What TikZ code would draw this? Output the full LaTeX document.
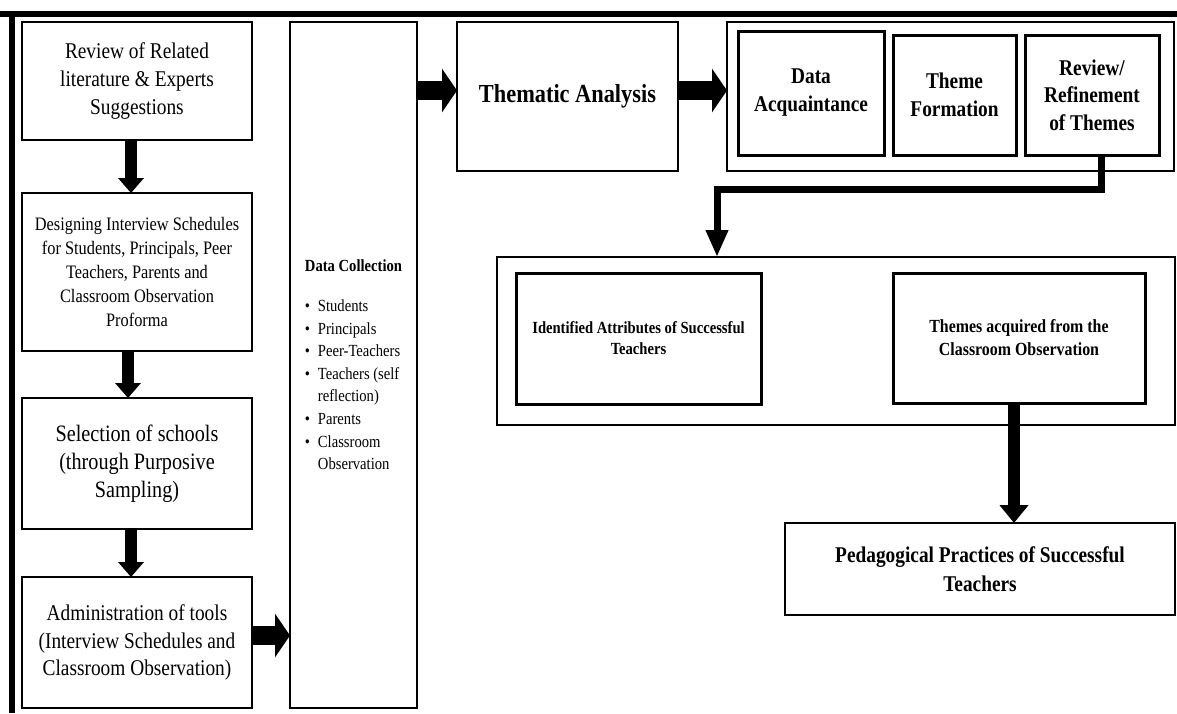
\documentclass[tikz,border=0pt]{standalone}
\usepackage{fontspec}
\setmainfont{Liberation Serif}[FakeStretch=0.86]
\usetikzlibrary{arrows.meta,positioning}

\newcommand{\dcitem}{\makebox[13pt][l]{\textbullet}}
\newcommand{\dcgap}{\hspace*{13pt}}

\begin{document}
\begin{tikzpicture}[
    x=1pt, y=-1pt,
    box/.style={draw, line width=2pt, align=center, inner sep=0pt, outer sep=0pt, anchor=north west},
    stagebox/.style={box, line width=3pt},
    flow/.style={line width=12pt, -{Triangle[length=15pt, width=25pt]}},
    wideflow/.style={line width=19pt, -{Triangle[length=15pt, width=43pt]}},
    link/.style={line width=7pt, -{Triangle[length=27pt, width=21pt]}}
]
\useasboundingbox (0,0) rectangle (1177,713);
% frame rules
\draw[line width=6pt] (0,14) -- (1177,14);
\draw[line width=6pt] (12,11) -- (12,713);

% left column
\node[box, minimum width=230pt, minimum height=118pt, font=\fontsize{22.5}{28}\selectfont] (review) at (22,22) {Review of Related\\literature \& Experts\\Suggestions};
\node[box, minimum width=230pt, minimum height=158pt, font=\fontsize{19}{24}\selectfont, below=53pt of review] (design) {Designing Interview Schedules\\for Students, Principals, Peer\\Teachers, Parents and\\Classroom Observation\\Proforma};
\node[box, minimum width=230pt, minimum height=131pt, font=\fontsize{23.5}{28}\selectfont, below=47pt of design] (select) {Selection of schools\\(through Purposive\\Sampling)};
\node[box, minimum width=230pt, minimum height=131pt, font=\fontsize{22.5}{27.5}\selectfont, below=48pt of select] (admin) {Administration of tools\\(Interview Schedules and\\Classroom Observation)};

\node[box, minimum width=127pt, minimum height=686pt, align=left, font=\fontsize{17}{22.6}\selectfont] (collect) at (290,22) {\textbf{Data Collection}\\[17pt]\dcitem Students\\\dcitem Principals\\\dcitem Peer-Teachers\\\dcitem Teachers (self\\\dcgap reflection)\\\dcitem Parents\\\dcitem Classroom\\\dcgap Observation};

% analysis
\node[box, minimum width=221pt, minimum height=149pt, font=\fontsize{26}{31}\selectfont\bfseries] (thematic) at (457,22) {Thematic Analysis};
\node[box, minimum width=447pt, minimum height=149pt] (stages) at (727,22) {};
\node[stagebox, minimum width=146pt, minimum height=124pt, font=\fontsize{22.5}{28}\selectfont\bfseries] (acquaint) at (738,31) {Data\\Acquaintance};
\node[stagebox, minimum width=123pt, minimum height=120pt, font=\fontsize{22.5}{28}\selectfont\bfseries] (formation) at (893,35) {Theme\\Formation};
\node[stagebox, minimum width=134pt, minimum height=120pt, font=\fontsize{22.5}{27.5}\selectfont\bfseries] (refine) at (1025,35) {Review/\\Refinement\\of Themes};

% findings
\node[box, line width=2.5pt, minimum width=678pt, minimum height=168pt] (findings) at (497,257) {};
\node[stagebox, minimum width=245pt, minimum height=131pt, font=\fontsize{17}{21}\selectfont\bfseries] (attributes) at (516,273) {Identified Attributes of Successful\\Teachers};
\node[stagebox, minimum width=252pt, minimum height=130pt, font=\fontsize{18.5}{23}\selectfont\bfseries] (acquired) at (893,273) {Themes acquired from the\\Classroom Observation};
\node[box, minimum width=390pt, minimum height=92pt, font=\fontsize{22.5}{29}\selectfont\bfseries] (practices) at (785,523) {Pedagogical Practices of Successful\\Teachers};

% connectors
\draw[flow] ([xshift=-6pt]review.south) -- ([xshift=-6pt]design.north);
\draw[flow] ([xshift=-9pt]design.south) -- ([xshift=-9pt]select.north);
\draw[flow] ([xshift=-6pt]select.south) -- ([xshift=-6pt]admin.north);
\coordinate (adminout) at ([yshift=7pt]admin.east);
\draw[wideflow] (adminout) -- (adminout -| collect.west);
\coordinate (thematicin) at ([yshift=6pt]thematic.west);
\draw[wideflow] (thematicin -| collect.east) -- (thematicin);
\draw[wideflow] ([yshift=6pt]thematic.east) -- ([yshift=6pt]stages.west);
\coordinate (turn) at (717,189);
\draw[link] ([xshift=9pt]refine.south) |- (turn) -- (turn |- findings.north);
\coordinate (acqout) at ([xshift=-5pt]acquired.south);
\draw[flow, -{Triangle[length=18pt, width=28pt]}] (acqout) -- (acqout |- practices.north);
\end{tikzpicture}
\end{document}
